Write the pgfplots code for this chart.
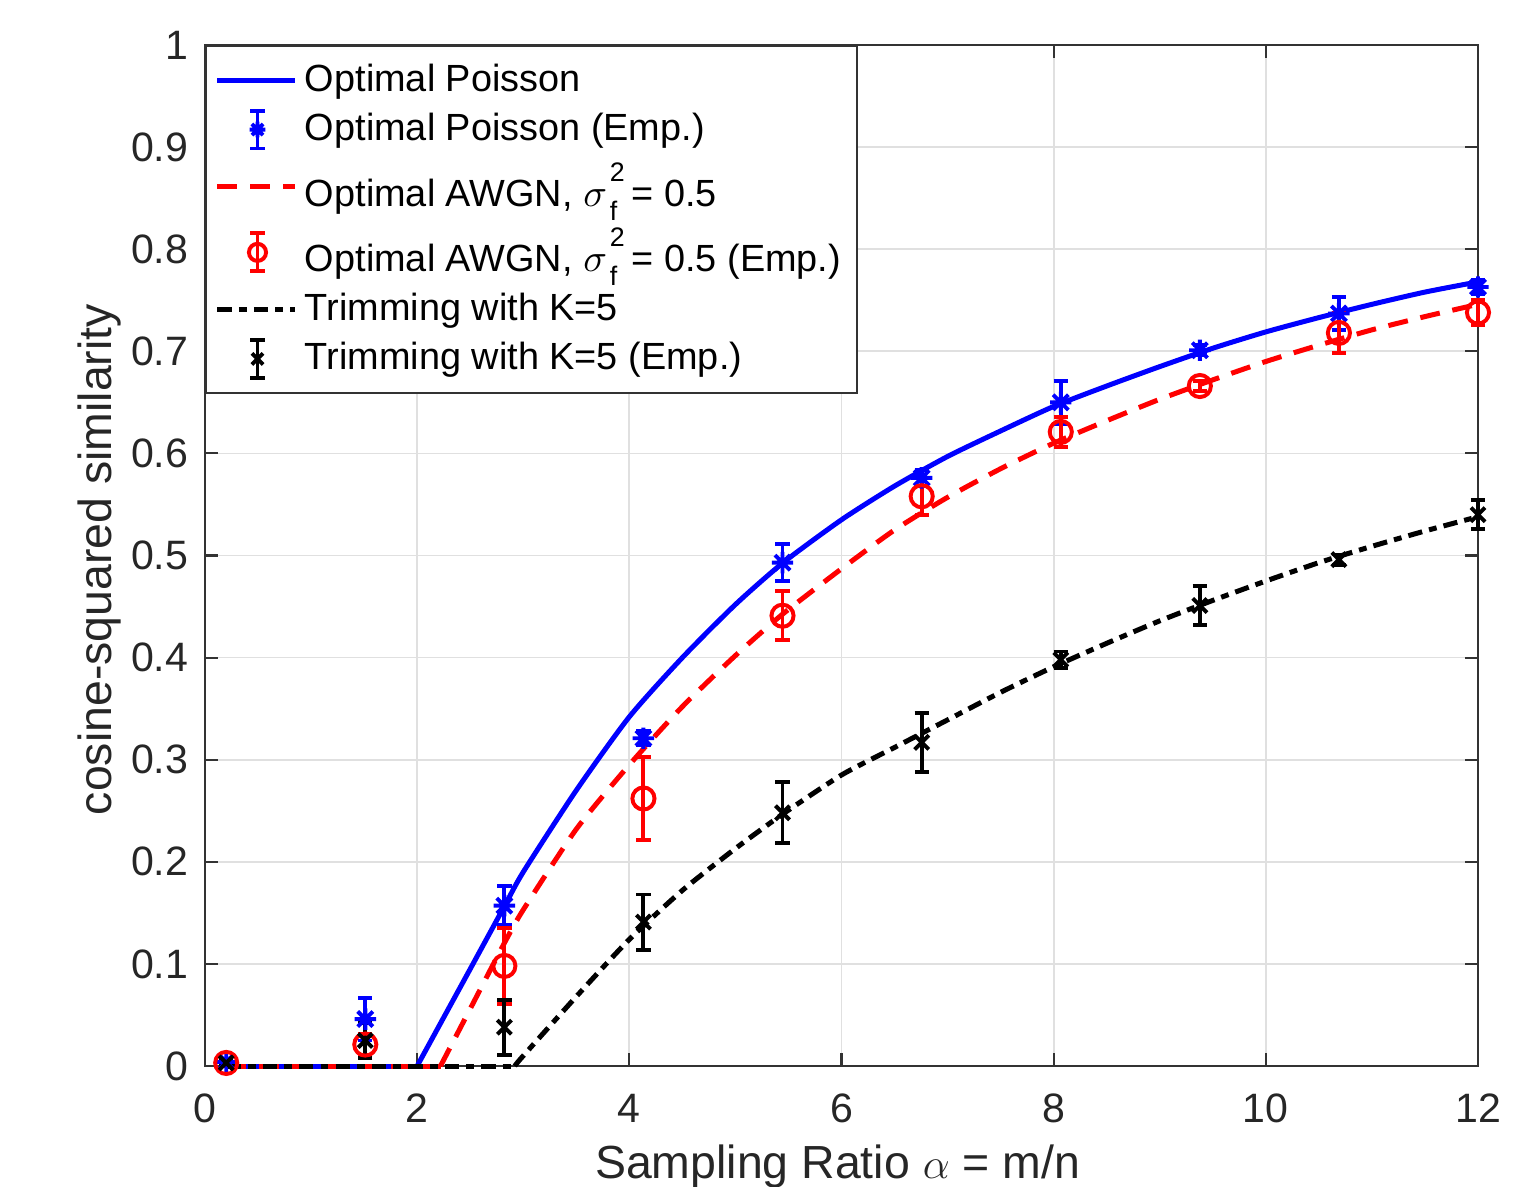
\documentclass[border=0pt]{standalone}
\usepackage{fontspec}
\setmainfont{Liberation Sans}
\usepackage{pgfplots}
\usepackage{pgfplotstable}
\pgfplotsset{compat=1.18}

% MATLAB-like '*' marker (plus and cross together)
\pgfdeclareplotmark{mstar}{%
  \pgfpathmoveto{\pgfqpoint{-\pgfplotmarksize}{0pt}}\pgfpathlineto{\pgfqpoint{\pgfplotmarksize}{0pt}}%
  \pgfpathmoveto{\pgfqpoint{0pt}{-\pgfplotmarksize}}\pgfpathlineto{\pgfqpoint{0pt}{\pgfplotmarksize}}%
  \pgfpathmoveto{\pgfqpoint{-.7071\pgfplotmarksize}{-.7071\pgfplotmarksize}}\pgfpathlineto{\pgfqpoint{.7071\pgfplotmarksize}{.7071\pgfplotmarksize}}%
  \pgfpathmoveto{\pgfqpoint{-.7071\pgfplotmarksize}{.7071\pgfplotmarksize}}\pgfpathlineto{\pgfqpoint{.7071\pgfplotmarksize}{-.7071\pgfplotmarksize}}%
  \pgfusepathqstroke}

% sigma_f^2 set the way MATLAB's tex interpreter does it
\newcommand{\sigf}{$\sigma$\kern0.8pt\rlap{\raisebox{7pt}{\fontsize{7.5}{7.5}\selectfont 2}}\raisebox{-4pt}{\fontsize{7.5}{7.5}\selectfont f}\kern4pt}

% flat parts of the theory curves (zero below threshold)
\pgfplotstableread{
x y
0.2 0
2.0 0
}\poissonflat
\pgfplotstableread{
x y
0.2 0
2.22 0
}\awgnflat
\pgfplotstableread{
x y
0.2 0
2.92 0
}\trimflat

% rising parts of the theory curves
\pgfplotstableread{
x y
2.0 0
2.25 0.0475
2.5 0.095
2.82 0.156
3.0 0.19
3.5 0.27
4.0 0.342
4.5 0.40
5.0 0.452
5.45 0.493
6.0 0.535
6.5 0.568
7.0 0.597
7.5 0.622
8.0 0.646
8.5 0.666
9.0 0.685
9.5 0.703
10.0 0.719
10.5 0.733
11.0 0.746
11.5 0.758
12.0 0.768
}\poisson

\pgfplotstableread{
x y
2.22 0
2.5 0.056
2.82 0.12
3.0 0.153
3.5 0.232
4.0 0.295
4.5 0.352
5.0 0.402
5.45 0.443
6.0 0.487
6.5 0.525
7.0 0.557
7.5 0.585
8.0 0.61
8.5 0.632
9.0 0.653
9.5 0.672
10.0 0.69
10.5 0.706
11.0 0.721
11.5 0.734
12.0 0.746
}\awgn

\pgfplotstableread{
x y
2.92 0
3.0 0.01
3.5 0.068
4.0 0.124
4.5 0.172
5.0 0.213
5.45 0.247
6.0 0.285
6.5 0.312
7.0 0.339
7.5 0.366
8.0 0.391
8.5 0.414
9.0 0.436
9.5 0.456
10.0 0.475
10.5 0.493
11.0 0.509
11.5 0.524
12.0 0.538
}\trim

% empirical: mean and error
\pgfplotstableread{
x y e
0.2 0.004 0.003
1.511 0.046 0.021
2.822 0.157 0.019
4.133 0.321 0.007
5.444 0.493 0.018
6.756 0.576 0.008
8.067 0.650 0.021
9.378 0.701 0.005
10.689 0.737 0.016
12.0 0.763 0.007
}\poissonemp

\pgfplotstableread{
x y e
0.2 0.003 0.003
1.511 0.021 0.010
2.822 0.098 0.037
4.133 0.262 0.041
5.444 0.441 0.024
6.756 0.558 0.018
8.067 0.621 0.015
9.378 0.666 0.005
10.689 0.718 0.020
12.0 0.738 0.012
}\awgnemp

\pgfplotstableread{
x y e
0.2 0.003 0.002
1.511 0.025 0.017
2.822 0.038 0.027
4.133 0.141 0.027
5.444 0.248 0.030
6.756 0.317 0.029
8.067 0.398 0.008
9.378 0.451 0.019
10.689 0.496 0.005
12.0 0.540 0.014
}\trimemp

\pgfplotsset{
  linelegend/.style={legend image code/.code={\draw[##1] (0pt,0pt) -- (21.8pt,0pt);}},
  emplegend/.style n args={2}{legend image code/.code={
    \draw[#1, line width=1.1pt] (11.2pt,-5.3pt) -- (11.2pt,5.3pt)
      (9.2pt,-5.3pt) -- (13.2pt,-5.3pt) (9.2pt,5.3pt) -- (13.2pt,5.3pt);
    \draw[#1, line width=1.1pt, #2] plot coordinates {(11.2pt,0pt)};
    \path (0pt,0pt) (21.8pt,0pt);}},
  emp/.style={only marks, line width=1.1pt,
    error bars/.cd, y dir=both, y explicit,
    error bar style={line width=1.1pt},
    error mark options={line width=1.1pt, mark size=2pt, rotate=90}},
  poissonline/.style={blue, line width=1.4pt},
  awgnline/.style={red, line width=1.4pt, dash pattern=on 5.6pt off 3.6pt},
  trimline/.style={black, line width=1.4pt, dash pattern=on 4pt off 2pt on 2.2pt off 2pt},
}

\begin{document}
\begin{tikzpicture}
\path[use as bounding box] (-57.4pt,-33.6pt) rectangle (368.2pt,298.48pt);
\begin{axis}[
    scale only axis,
    width=356.44pt, height=285.88pt,
    xmin=0, xmax=12, ymin=0, ymax=1,
    xtick={0,2,...,12},
    ytick={0,0.1,...,1},
    xmajorgrids=true, ymajorgrids=true,
    grid style={black!12, line width=0.5pt},
    axis line style={black!80, line width=0.6pt},
    tick style={black!80, line width=0.6pt},
    major tick length=3.6pt,
    tick align=inside,
    clip=false,
    /pgf/number format/assume math mode=true,
    /pgf/number format/fixed,
    /pgf/number format/precision=1,
    ticklabel style={font=\fontsize{11.5}{13}\selectfont, text=black!85},
    yticklabel style={xshift=-1.2pt},
    xticklabel style={anchor=base, yshift=-15.7pt},
    xlabel={Sampling Ratio $\alpha$ = m/n},
    ylabel={cosine-squared similarity},
    label style={font=\fontsize{13}{15}\selectfont, text=black!85},
    xlabel style={at={(axis description cs:0.497,-0.1097)}, anchor=base},
    ylabel style={at={(axis description cs:-0.0731,0.496)}, anchor=base},
    legend style={at={(0,1)}, anchor=north west, draw=black!80, fill=white,
      font=\fontsize{10.6}{12.5}\selectfont, cells={anchor=west},
      inner xsep=2.5pt, inner ysep=3pt, row sep=0.6pt, line width=0.6pt},
]

\addplot[poissonline, forget plot] table[x=x,y=y] {\poissonflat};
\addplot[poissonline, smooth, tension=0.4, linelegend] table[x=x,y=y] {\poisson};
\addlegendentry{Optimal Poisson}

\addplot[blue, mark=mstar, mark size=3pt, emplegend={blue}{mark=mstar, mark size=2.2pt}, emp]
  table[x=x, y=y, y error=e] {\poissonemp};
\addlegendentry{Optimal Poisson (Emp.)}

\addplot[awgnline, forget plot] table[x=x,y=y] {\awgnflat};
\addplot[awgnline, smooth, tension=0.4, linelegend] table[x=x,y=y] {\awgn};
\addlegendentry{Optimal AWGN, \sigf= 0.5}

\addplot[red, mark=o, mark size=3.1pt, emplegend={red}{mark=o, mark size=2.4pt}, emp]
  table[x=x, y=y, y error=e] {\awgnemp};
\addlegendentry{Optimal AWGN, \sigf= 0.5 (Emp.)}

\addplot[trimline, forget plot] table[x=x,y=y] {\trimflat};
\addplot[trimline, smooth, tension=0.4, linelegend] table[x=x,y=y] {\trim};
\addlegendentry{Trimming with K=5}

\addplot[black, mark=x, mark size=2.8pt, emplegend={black}{mark=x, mark size=2.2pt}, emp]
  table[x=x, y=y, y error=e] {\trimemp};
\addlegendentry{Trimming with K=5 (Emp.)}

\end{axis}
\end{tikzpicture}
\end{document}
